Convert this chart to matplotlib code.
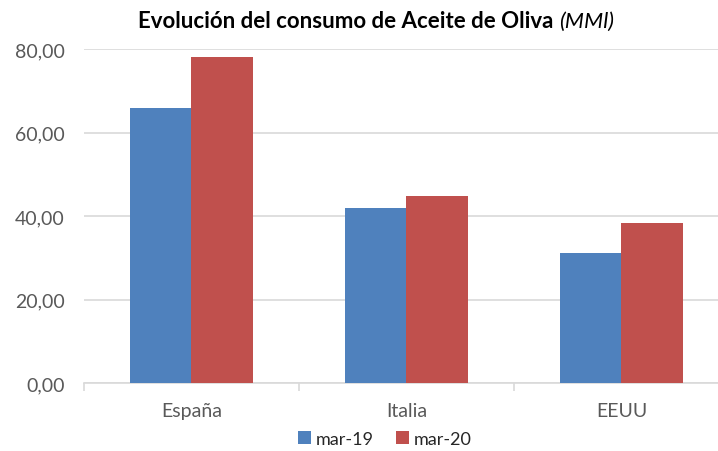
import numpy as np
import matplotlib
matplotlib.use("Agg")
from matplotlib import pyplot as plt

categories = ["España", "Italia", "EEUU"]
series = ["mar-19", "mar-20"]
mar19 = [65.9, 41.8, 31.2]
mar20 = [78.2, 44.9, 38.3]
yticks = [0, 20, 40, 60, 80]
ytick_labels = ["0,00", "20,00", "40,00", "60,00", "80,00"]

plt.rcParams['font.family'] = ['Lato', 'DejaVu Sans']

fig = plt.figure(figsize=(7.18, 4.52), dpi=100)
ax = fig.add_axes([84/718, (452-384)/452, 1 - 84/718, (384-50)/452])

x = np.arange(len(categories))
w = 0.285
ax.bar(x - w/2, mar19, w, color="#4F81BD", label=series[0], zorder=3)
ax.bar(x + w/2, mar20, w, color="#C0504D", label=series[1], zorder=3)

ax.set_ylim(0, 80)
ax.set_xlim(-0.5, 2.449)
ax.set_yticks(yticks)
ax.set_yticklabels(ytick_labels, fontsize=14, color="#595959")
ax.tick_params(axis="y", length=0, pad=14)
ax.grid(axis="y", color="#d9d9d9", linewidth=1.2, zorder=0)

ax.set_xticks(x)
ax.set_xticklabels(categories, fontsize=14, color="#595959")
ax.tick_params(axis="x", which="major", length=0, pad=14)
ax.set_xticks([-0.5, 0.5, 1.5], minor=True)
ax.tick_params(axis="x", which="minor", length=6, color="#d9d9d9", width=1.2)

for s in ["top", "right", "left"]:
    ax.spines[s].set_visible(False)
ax.spines["bottom"].set_color("#d9d9d9")
ax.spines["bottom"].set_linewidth(1.2)

# title: bold part + italic part
t1 = fig.text(0, 0, "Evolución del consumo de Aceite de Oliva ", fontsize=16,
              fontweight="bold", color="black", va="center")
t2 = fig.text(0, 0, "(MMl)", fontsize=16, style="italic", color="black", va="center")
fig.canvas.draw()
r = fig.canvas.get_renderer()
w1 = t1.get_window_extent(r).width
w2 = t2.get_window_extent(r).width
x0 = 376 - (w1 + w2) / 2
t1.set_position((x0 / 718, 1 - 22/452))
t2.set_position(((x0 + w1) / 718, 1 - 22/452))

ax.legend(loc="center", bbox_to_anchor=(385/718, 12/452), bbox_transform=fig.transFigure,
          ncol=2, frameon=False, fontsize=13, handlelength=0.7, handleheight=0.7,
          handletextpad=0.3, columnspacing=1.2, labelcolor="#262626")

fig.savefig("out.png", dpi=100)
